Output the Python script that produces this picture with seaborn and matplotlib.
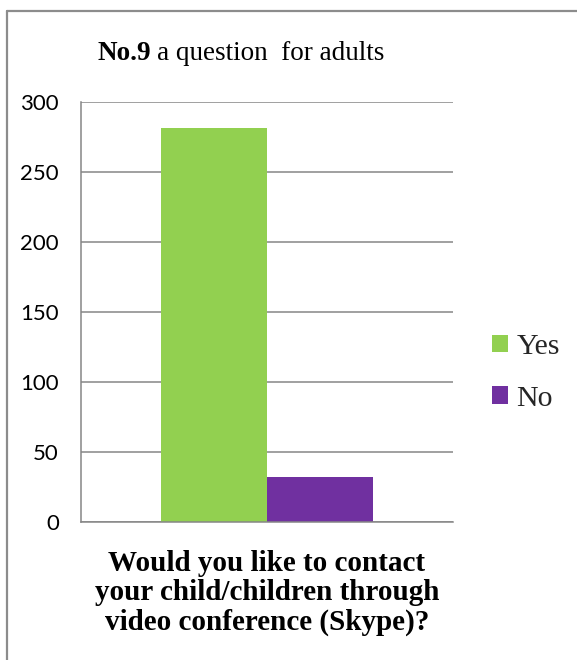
import matplotlib
matplotlib.use("Agg")
import matplotlib.pyplot as plt
import seaborn as sns
import pandas as pd
from matplotlib.lines import Line2D

# ---- data ----
categories = ["Q9"]
answers = ["Yes", "No"]
counts = [281, 32]
colors = ["#92D050", "#7030A0"]
y_ticks = [0, 50, 100, 150, 200, 250, 300]
title_bold = "No.9"
title_rest = "a question  for adults"
xlabel = "Would you like to contact\nyour child/children through\nvideo conference (Skype)?"

df = pd.DataFrame({"cat": categories * len(answers), "answer": answers, "count": counts})

sns.set_theme(style="white")

fig = plt.figure(figsize=(5.77, 6.60), dpi=100)
ax = fig.add_axes([81 / 577, 138 / 660, 372 / 577, 420.3 / 660])

sns.barplot(data=df, x="cat", y="count", hue="answer", hue_order=answers,
            palette=colors, width=0.57, ax=ax, saturation=1, legend=True, linewidth=0)

ax.set_ylim(0, 300)
ax.set_xlim(-0.5, 0.5)
ax.set_yticks(y_ticks)
ax.set_yticklabels([str(v) for v in y_ticks], fontfamily="Lato", fontsize=16, color="#000000")
ax.set_xticks([])
ax.set_xlabel("")
ax.set_ylabel("")
ax.tick_params(axis="y", length=0, pad=16)
ax.set_axisbelow(True)
ax.yaxis.grid(True, color="#868686", linewidth=1.1)
for s in ["top", "right"]:
    ax.spines[s].set_visible(False)
for s in ["left", "bottom"]:
    ax.spines[s].set_color("#868686")
    ax.spines[s].set_linewidth(1.1)

handles, labels = ax.get_legend_handles_labels()
ax.get_legend().remove()
fig.legend(handles, labels, loc="center left", bbox_to_anchor=(492 / 577, 1 - 373 / 660),
           frameon=False, borderaxespad=0, borderpad=0, handlelength=0.52, handleheight=0.52,
           handletextpad=0.3, labelspacing=0.85,
           prop={"family": "Liberation Serif", "size": 21.5})

# title: bold part + regular part
renderer = fig.canvas.get_renderer()
t1 = fig.text(98 / 577, 1 - 53 / 660, title_bold, ha="left", va="center",
              fontfamily="Liberation Serif", fontweight="bold", fontsize=19.5, color="black")
bb = t1.get_window_extent(renderer=renderer)
fig.text((bb.x1 + 5) / fig.bbox.width, 1 - 53 / 660, title_rest, ha="left", va="center",
         fontfamily="Liberation Serif", fontsize=19.5, color="black")

fig.text(267 / 577, 1 - 550 / 660, xlabel, ha="center", va="top", fontfamily="Liberation Serif",
         fontweight="bold", fontsize=21, linespacing=1.1, color="black")

# outer border (top and left visible)
fig.add_artist(Line2D([7 / 577, 1.0], [1 - 11 / 660, 1 - 11 / 660], transform=fig.transFigure,
                      color="#8c8c8c", linewidth=1.6))
fig.add_artist(Line2D([7 / 577, 7 / 577], [0.0, 1 - 11 / 660], transform=fig.transFigure,
                      color="#8c8c8c", linewidth=1.6))

fig.savefig("out.png", dpi=100, facecolor="white")
